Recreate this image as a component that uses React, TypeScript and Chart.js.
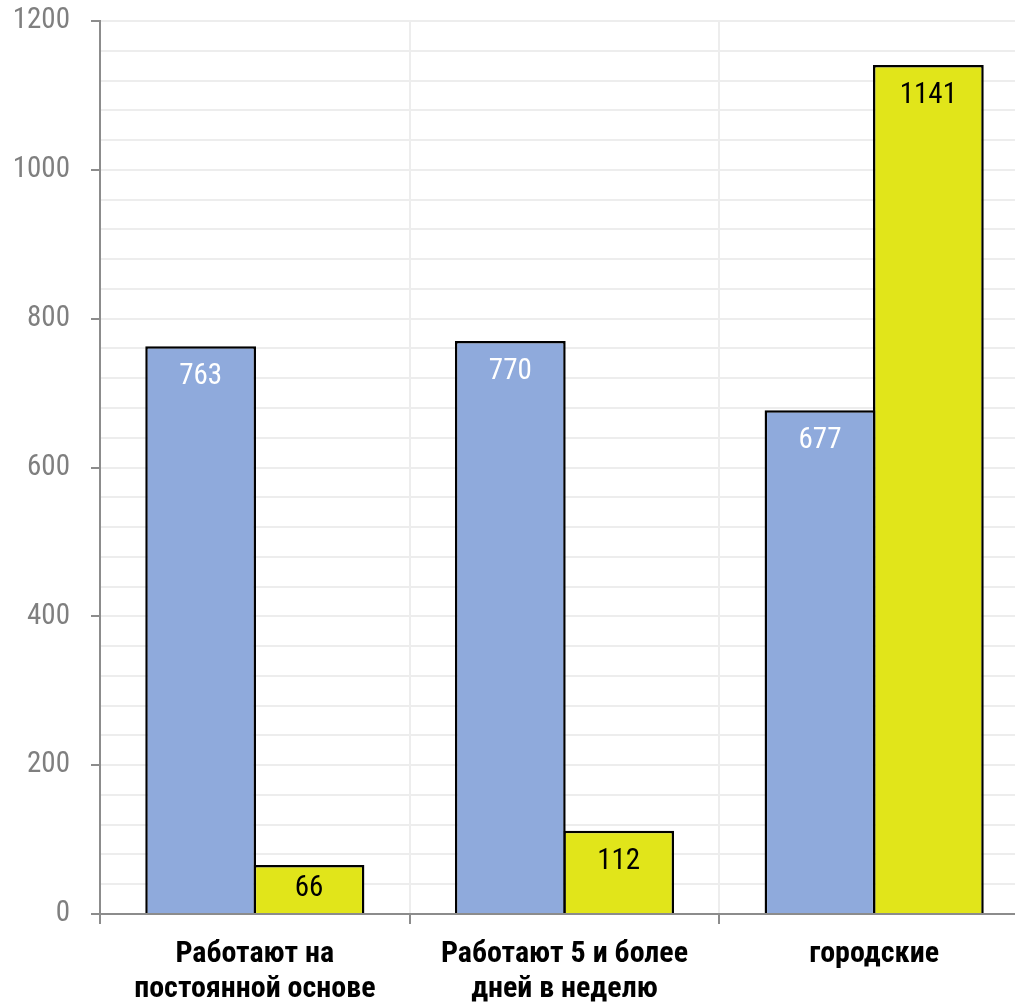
import React, { useEffect, useRef } from "react";
import { Chart, registerables } from "chart.js";

Chart.register(...registerables);

const categories: string[][] = [
  ["Работают на", "постоянной основе"],
  ["Работают 5 и более", "дней в неделю"],
  ["городские"],
];
const seriesBlue = [763, 770, 677];
const seriesYellow = [66, 112, 1141];
const yMin = 0;
const yMax = 1200;
const yStep = 40;
const yLabelStep = 200;

const FONT = "'Roboto Condensed', 'Liberation Sans', Arial, sans-serif";

const dataLabelPlugin = {
  id: "dataLabels",
  afterDatasetsDraw(chart: any) {
    const ctx = chart.ctx;
    ctx.save();
    ctx.font = `29px ${FONT}`;
    ctx.textAlign = "center";
    ctx.textBaseline = "middle";
    chart.data.datasets.forEach((ds: any, di: number) => {
      const meta = chart.getDatasetMeta(di);
      meta.data.forEach((el: any, i: number) => {
        const top = el.y;
        const base = el.base;
        const y = Math.min(top + 31, (top + base) / 2);
        ctx.fillStyle = ds.labelColor;
        ctx.fillText(String(ds.data[i]), el.x, y);
      });
    });
    ctx.restore();
  },
};

export default function App() {
  const ref = useRef<HTMLCanvasElement>(null);
  useEffect(() => {
    if (!ref.current) return;
    const chart = new Chart(ref.current, {
      type: "bar",
      data: {
        labels: categories as any,
        datasets: [
          {
            data: seriesBlue,
            backgroundColor: "#8FAADC",
            borderColor: "#000000",
            borderWidth: 2.5,
            labelColor: "#FFFFFF",
          } as any,
          {
            data: seriesYellow,
            backgroundColor: "#E1E51A",
            borderColor: "#000000",
            borderWidth: 2.5,
            labelColor: "#000000",
          } as any,
        ],
      },
      options: {
        animation: false,
        responsive: false,
        maintainAspectRatio: false,
        layout: { padding: { top: 21, left: 0, right: 0, bottom: 0 } },
        plugins: { legend: { display: false }, tooltip: { enabled: false } },
        datasets: { bar: { categoryPercentage: 0.7, barPercentage: 1.022 } },
        scales: {
          x: {
            offset: true,
            afterFit: (s: any) => {
              s.height = 93;
              s.paddingLeft = 0;
              s.paddingRight = 0;
            },
            grid: {
              offset: true,
              color: "#EDEDED",
              lineWidth: 2,
              tickLength: 10,
              tickColor: "#8C8C8C",
              tickWidth: 2,
            } as any,
            border: { color: "#8C8C8C", width: 2 },
            ticks: {
              color: "#000000",
              font: { family: FONT, size: 30, weight: "bold", lineHeight: 35 / 30 },
              padding: 13,
              maxRotation: 0,
              autoSkip: false,
            },
          },
          y: {
            min: yMin,
            max: yMax,
            afterFit: (s: any) => {
              s.width = 100;
              s.paddingTop = 0;
              s.paddingBottom = 0;
            },
            grid: {
              color: "#EDEDED",
              lineWidth: 2,
              tickLength: 9,
              tickWidth: 2,
              tickColor: (c: any) =>
                c.tick && c.tick.value % yLabelStep === 0 ? "#8C8C8C" : "rgba(0,0,0,0)",
            },
            border: { color: "#8C8C8C", width: 2 },
            ticks: {
              stepSize: yStep,
              autoSkip: false,
              color: "#7F7F7F",
              font: { family: FONT, size: 29 },
              padding: 21,
              callback: (v: any) => (Number(v) % yLabelStep === 0 ? String(v) : ""),
            },
          },
        },
      },
      plugins: [dataLabelPlugin],
    } as any);
    return () => chart.destroy();
  }, []);
  return (
    <div
      style={{
        position: "absolute",
        left: 0,
        top: 0,
        width: 1015,
        height: 1007,
        overflow: "hidden",
        background: "#FFFFFF",
      }}
    >
      <canvas ref={ref} width={1029} height={1007} style={{ display: "block" }} />
    </div>
  );
}
